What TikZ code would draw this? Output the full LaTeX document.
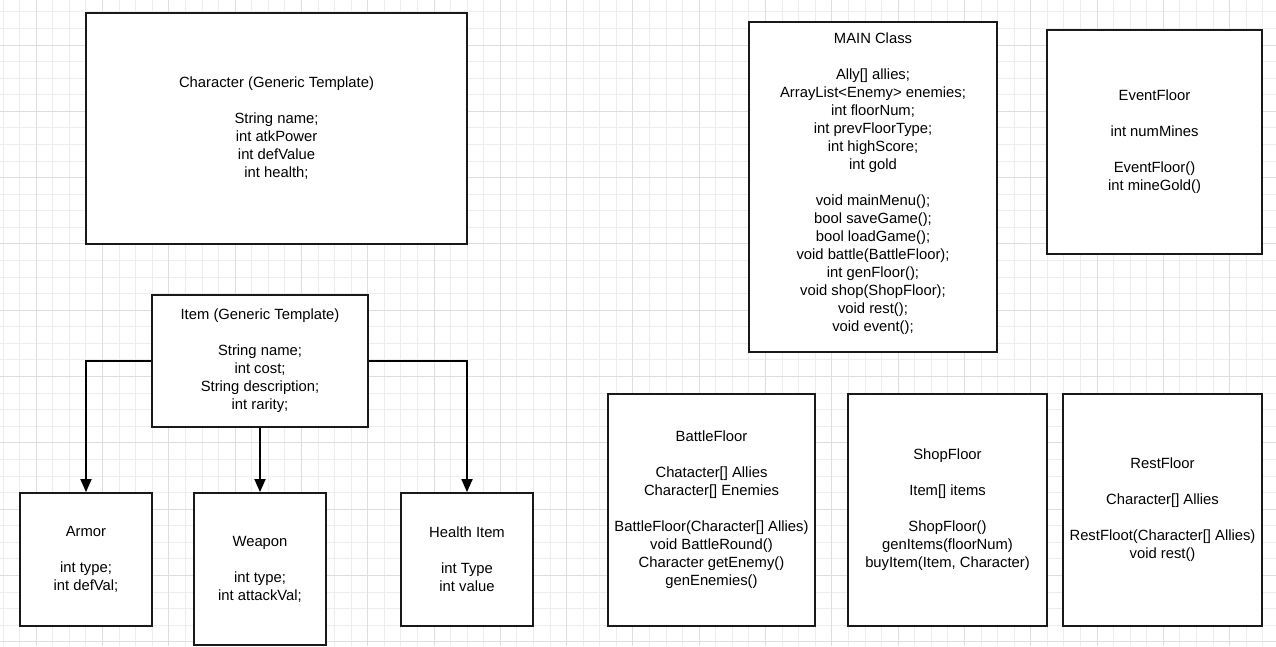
\documentclass[tikz,border=0pt]{standalone}
\usepackage{fontspec}
\setmainfont{Liberation Sans}
\usetikzlibrary{arrows.meta}

\begin{document}
\begin{tikzpicture}[x=1pt,y=-1pt,
  minorgrid/.style={draw=black!7,line width=0.9pt},
  majorgrid/.style={draw=black!13,line width=0.9pt},
  classbox/.style={draw=black!90,line width=1.8pt,fill=white,rectangle,
    align=center,inner sep=0pt,
    font=\fontsize{14.8}{18}\selectfont,
    execute at begin node={\rule{0pt}{12.6pt}},
    execute at end node={\rule[-1.4pt]{0pt}{1.4pt}}},
  arr/.style={draw=black,line width=1.8pt,
    -{Triangle[length=13pt,width=11pt]}}]

\useasboundingbox (0,0) rectangle (1276,646);
\fill[white] (0,0) rectangle (1276,646);

% background grid
\foreach \i in {0,...,77}
  \draw[minorgrid] ({3.05+16.575*\i},0) -- ({3.05+16.575*\i},646);
\foreach \j in {0,...,38}
  \draw[minorgrid] (0,{11.85+16.575*\j}) -- (1276,{11.85+16.575*\j});
\foreach \i in {0,...,18}
  \draw[majorgrid] ({36.2+66.3*\i},0) -- ({36.2+66.3*\i},646);
\foreach \j in {0,...,9}
  \draw[majorgrid] (0,{45+66.3*\j}) -- (1276,{45+66.3*\j});

% character template
\node[classbox,minimum width=381pt,minimum height=231pt] (char) at (276.5,128.5)
  {Character (Generic Template)\\[18pt]String name;\\int atkPower\\int defValue\\int health;};

% item hierarchy
\node[classbox,minimum width=216pt,minimum height=132pt] (item) at (260,361)
  {Item (Generic Template)\\[18pt]String name;\\int cost;\\String description;\\int rarity;};
\node[classbox,minimum width=132pt,minimum height=133pt] (armor) at (86,559.5)
  {Armor\\[18pt]int type;\\int defVal;};
\node[classbox,minimum width=132pt,minimum height=152pt] (weapon) at (260,569)
  {Weapon\\[18pt]int type;\\int attackVal;};
\node[classbox,minimum width=132pt,minimum height=133pt] (health) at (467,559.5)
  {Health Item\\[18pt]int Type\\int value};

\draw[arr] (item.west) -| (armor.north);
\draw[arr] (item.south) -- (weapon.north);
\draw[arr] (item.east) -| (health.north);

% game classes
\node[classbox,minimum width=248pt,minimum height=330pt,
  execute at begin node=\strut,
  execute at end node={\rule[-9.4pt]{0pt}{9.4pt}}] (main) at (873,187)
  {MAIN Class\\[18pt]Ally[] allies;\\ArrayList<Enemy> enemies;\\int floorNum;\\int prevFloorType;\\int highScore;\\int gold\\[18pt]void mainMenu();\\bool saveGame();\\bool loadGame();\\void battle(BattleFloor);\\int genFloor();\\void shop(ShopFloor);\\void rest();\\void event();};
\node[classbox,minimum width=215pt,minimum height=224pt] (event) at (1154.5,142)
  {EventFloor\\[18pt]int numMines\\[18pt]EventFloor()\\int mineGold()};

\node[classbox,minimum width=207pt,minimum height=232pt] (battle) at (711.5,510)
  {BattleFloor\\[18pt]Chatacter[] Allies\\Character[] Enemies\\[18pt]BattleFloor(Character[] Allies)\\void BattleRound()\\Character getEnemy()\\genEnemies()};
\node[classbox,minimum width=199pt,minimum height=232pt] (shop) at (947.5,510)
  {ShopFloor\\[18pt]Item[] items\\[18pt]ShopFloor()\\genItems(floorNum)\\buyItem(Item, Character)};
\node[classbox,minimum width=199pt,minimum height=232pt] (rest) at (1162.5,510)
  {RestFloor\\[18pt]Character[] Allies\\[18pt]RestFloot(Character[] Allies)\\void rest()};

\end{tikzpicture}
\end{document}
